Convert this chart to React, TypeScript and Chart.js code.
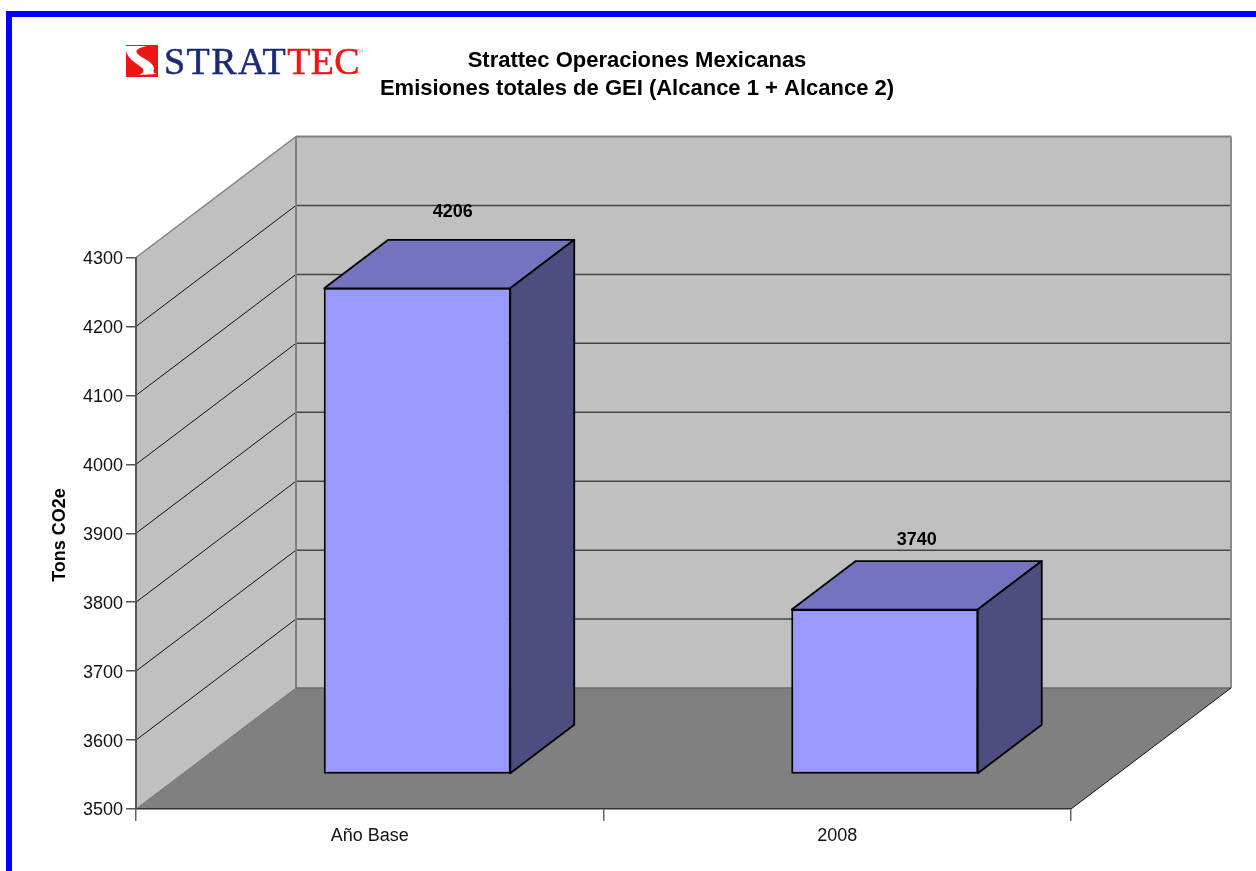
import React, { useEffect, useRef } from "react";
import { Chart, registerables } from "chart.js";

Chart.register(...registerables);

const categories = ["Año Base", "2008"];
const emissions = [4206, 3740];
const titleLines = ["Strattec Operaciones Mexicanas", "Emisiones totales de GEI (Alcance 1 + Alcance 2)"];
const yAxisTitle = "Tons CO2e";
const yMin = 3500;
const yMax = 4300;
const yStep = 100;

const FONT = '"Liberation Sans", Arial, sans-serif';
const DEPTH_X = 160;
const DEPTH_Y = 121;
const BAR_SHIFT_X = 47.5;
const BAR_SHIFT_Y = 34.5;
const BAR_DX = 64;
const BAR_DY = 48.5;
const LABEL_OFFSETS = [[35.5, -76], [32, -69]];

function poly(ctx: CanvasRenderingContext2D, pts: number[][], fill?: string, stroke?: string, lw = 1) {
  ctx.beginPath();
  pts.forEach((p, i) => (i ? ctx.lineTo(p[0], p[1]) : ctx.moveTo(p[0], p[1])));
  ctx.closePath();
  if (fill) { ctx.fillStyle = fill; ctx.fill(); }
  if (stroke) { ctx.strokeStyle = stroke; ctx.lineWidth = lw; ctx.stroke(); }
}

function line(ctx: CanvasRenderingContext2D, x1: number, y1: number, x2: number, y2: number, c: string, lw: number) {
  ctx.beginPath();
  ctx.moveTo(x1, y1);
  ctx.lineTo(x2, y2);
  ctx.strokeStyle = c;
  ctx.lineWidth = lw;
  ctx.stroke();
}

const box3d = {
  id: "box3d",
  beforeDraw(chart: any) {
    const { ctx, chartArea: a, scales } = chart;
    const L = a.left, R = a.right, T = a.top, B = a.bottom;
    ctx.save();
    poly(ctx, [[L, B], [L + DEPTH_X, B - DEPTH_Y], [R + DEPTH_X, B - DEPTH_Y], [R, B]], "#808080");
    poly(ctx, [[L + DEPTH_X, T - DEPTH_Y], [R + DEPTH_X, T - DEPTH_Y], [R + DEPTH_X, B - DEPTH_Y], [L + DEPTH_X, B - DEPTH_Y]], "#c0c0c0");
    poly(ctx, [[L, T], [L + DEPTH_X, T - DEPTH_Y], [L + DEPTH_X, B - DEPTH_Y], [L, B]], "#c0c0c0");
    scales.y.ticks.forEach((t: any) => {
      if (t.value === yMin || t.value === yMax) return;
      const y = scales.y.getPixelForValue(t.value);
      line(ctx, L, y, L + DEPTH_X, y - DEPTH_Y, "#111111", 1);
      line(ctx, L + DEPTH_X, y - DEPTH_Y, R + DEPTH_X, y - DEPTH_Y, "#444444", 1.5);
    });
    line(ctx, L, T, L + DEPTH_X, T - DEPTH_Y, "#808080", 1.5);
    line(ctx, L + DEPTH_X, T - DEPTH_Y, R + DEPTH_X, T - DEPTH_Y, "#808080", 2);
    line(ctx, R + DEPTH_X, T - DEPTH_Y, R + DEPTH_X, B - DEPTH_Y, "#8c8c8c", 2);
    line(ctx, L + DEPTH_X, T - DEPTH_Y, L + DEPTH_X, B - DEPTH_Y, "#808080", 2);
    line(ctx, L + DEPTH_X, B - DEPTH_Y, R + DEPTH_X, B - DEPTH_Y, "#6a6a6a", 1.5);
    line(ctx, L, B, L + DEPTH_X, B - DEPTH_Y, "#707070", 1);
    line(ctx, R, B, R + DEPTH_X, B - DEPTH_Y, "#111111", 1);
    ctx.restore();
  },
  beforeDatasetsDraw(chart: any) {
    const { ctx } = chart;
    ctx.save();
    ctx.translate(BAR_SHIFT_X, -BAR_SHIFT_Y);
  },
  afterDatasetsDraw(chart: any) {
    const { ctx } = chart;
    const bars = chart.getDatasetMeta(0).data;
    ctx.lineJoin = "round";
    bars.forEach((bar: any) => {
      const p = bar.getProps(["x", "y", "base", "width"], true);
      const l = p.x - p.width / 2 + 0.5;
      const r = p.x + p.width / 2 - 0.5;
      const top = p.y + 0.5;
      const base = p.base - 0.5;
      poly(ctx, [[l, top], [l + BAR_DX, top - BAR_DY], [r + BAR_DX, top - BAR_DY], [r, top]], "#7373bf", "#000000", 1.8);
      poly(ctx, [[r, top], [r + BAR_DX, top - BAR_DY], [r + BAR_DX, base - BAR_DY], [r, base]], "#4d4d80", "#000000", 1.8);
    });
    ctx.restore();

    ctx.save();
    ctx.fillStyle = "#000000";
    ctx.textAlign = "center";
    ctx.textBaseline = "middle";
    ctx.font = `bold 18px ${FONT}`;
    bars.forEach((bar: any, i: number) => {
      const p = bar.getProps(["x", "y", "width"], true);
      ctx.fillText(String(emissions[i]), p.x + BAR_SHIFT_X + LABEL_OFFSETS[i][0], p.y - BAR_SHIFT_Y + LABEL_OFFSETS[i][1]);
    });
    ctx.font = `bold 22px ${FONT}`;
    ctx.fillText(titleLines[0], 637, 61);
    ctx.fillText(titleLines[1], 637, 89);
    ctx.font = `bold 18px ${FONT}`;
    ctx.translate(60, 535);
    ctx.rotate(-Math.PI / 2);
    ctx.fillText(yAxisTitle, 0, 0);
    ctx.restore();
  },
};

function Logo() {
  return (
    <div style={{ position: "fixed", left: 126, top: 45, height: 32, whiteSpace: "nowrap" }}>
      <svg width={32} height={32} viewBox="0 0 32 32" style={{ position: "absolute", left: 0, top: 0 }}>
        <rect width={32} height={32} fill="#ee1515" />
        <path d="M0 1 L21 1 C12 3 9 5 11 8 C14 13 27 16 28 23 C28 26 26 28 31 29 L13 30 C18 28 19 25 15 22 C10 18 2 14 0 6 Z" fill="#ffffff" />
      </svg>
      <div style={{ position: "absolute", left: 38, top: -7, fontFamily: '"Liberation Serif", serif', fontSize: 38, lineHeight: "46px", WebkitTextStroke: "0.5px" }}>
        <span style={{ color: "#1b2a78", letterSpacing: 1.4 }}>STRAT</span>
        <span style={{ color: "#ee1515", letterSpacing: 0.4 }}>TEC</span>
      </div>
      <div style={{ position: "absolute", left: 230, top: 3, fontFamily: '"Liberation Sans", sans-serif', fontSize: 5, color: "#aaaaaa" }}>TM</div>
    </div>
  );
}

export default function App() {
  const ref = useRef<HTMLCanvasElement>(null);
  useEffect(() => {
    const chart = new Chart(ref.current!, {
      type: "bar",
      data: {
        labels: categories,
        datasets: [{
          data: emissions,
          base: yMin,
          backgroundColor: "#9999ff",
          borderColor: "#000000",
          borderWidth: 2,
          borderSkipped: false,
          barPercentage: 0.4,
          categoryPercentage: 1,
          clip: false,
        }],
      },
      options: {
        animation: false,
        responsive: false,
        layout: { padding: { top: 257.5, left: 0, right: 185, bottom: 0 } },
        plugins: { legend: { display: false }, title: { display: false }, tooltip: { enabled: false } },
        scales: {
          x: {
            afterFit: (s: any) => { s.height = 62; },
            grid: { drawOnChartArea: false, tickLength: 12, color: "#666666", lineWidth: 1.5 },
            border: { color: "#333333", width: 1.5 },
            ticks: { color: "#111111", font: { family: FONT, size: 18 }, padding: 4, maxRotation: 0 },
          },
          y: {
            min: yMin,
            max: yMax,
            afterFit: (s: any) => { s.width = 136; },
            grid: { drawOnChartArea: false, tickLength: 10, color: "#555555", lineWidth: 1.5 },
            border: { color: "#555555", width: 2 },
            ticks: { stepSize: yStep, color: "#111111", font: { family: FONT, size: 18 }, padding: 3, labelOffset: 1.5, callback: (v: any) => String(v) },
          },
        },
      },
      plugins: [box3d],
    } as any);
    return () => chart.destroy();
  }, []);
  return (
    <div style={{ position: "fixed", inset: 0, background: "#ffffff", overflow: "hidden" }}>
      <div style={{ position: "absolute", left: 6, top: 11, right: 0, bottom: 0, borderLeft: "6px solid #0000ff", borderTop: "6px solid #0000ff" }} />
      <canvas ref={ref} width={1256} height={871} style={{ position: "absolute", left: 0, top: 0, display: "block" }} />
      <Logo />
    </div>
  );
}
